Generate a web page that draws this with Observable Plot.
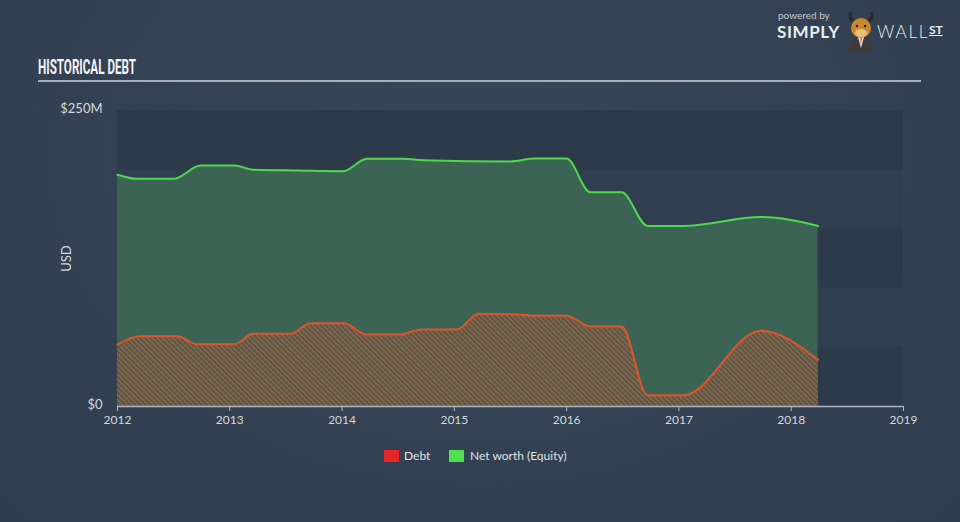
<!DOCTYPE html>
<html>
<head>
<meta charset="utf-8">
<script src="https://cdn.jsdelivr.net/npm/d3@7"></script>
<script src="https://cdn.jsdelivr.net/npm/@observablehq/plot@0.6"></script>
<style>
  html, body { margin: 0; padding: 0; background: #344253; }
  #wrap { position: relative; width: 960px; height: 522px; overflow: hidden;
    background: radial-gradient(ellipse at 50% 30%, #37465a 0%, #334152 60%, #2f3c4d 100%);
    font-family: Lato, "Open Sans", sans-serif; }
  #title { position: absolute; left: 38px; top: 55px; color: #f2f4f6; font-family: Roboto, "Liberation Sans", sans-serif;
    font-weight: 700; font-size: 20.5px; line-height: 24px; white-space: nowrap; transform-origin: 0 0; }
  #hr { position: absolute; left: 38px; top: 80px; width: 883px; height: 2px; background: #a7afb9; }
  #logo { position: absolute; left: 776px; top: 0px; width: 180px; height: 52px; color: #e9ecef; }
  #logo span { position: absolute; line-height: 1; white-space: nowrap; font-family: Lato, sans-serif; }
  #logo .pb { left: 2px; top: 10px; font-size: 10px; color: #c3c8cf; }
  #logo .simply { left: 1px; top: 23px; font-size: 17px; font-weight: 700; letter-spacing: 0.6px; }
  #logo .wall { left: 101px; top: 23px; font-size: 17px; font-weight: 300; letter-spacing: 1.8px; }
  #logo .st { left: 153px; top: 24px; font-size: 12px; font-weight: 700; text-decoration: underline; }
  #logo svg { position: absolute; left: 68px; top: 8px; }
  #chart { position: absolute; left: 0; top: 90px; }
  #legend { position: absolute; left: 0; top: 446px; width: 960px; height: 22px; }
  .item { position: absolute; top: 0; font-size: 12px; color: #dfe3e8; line-height: 20px; font-family: Lato, sans-serif; }
  .sw { position: absolute; top: 4px; width: 15px; height: 12px; }
</style>
</head>
<body>
<div id="wrap">
  <div id="title">HISTORICAL DEBT</div>
  <div id="hr"></div>
  <div id="logo">
    <span class="pb">powered by</span>
    <span class="simply">SIMPLY</span>
    <svg width="34" height="44" viewBox="0 0 34 44">
      <path d="M5 4 Q3 12 9 15 L11 12 Q7 10 8 4 Z" fill="#2a2a2a"/>
      <path d="M29 4 Q31 12 25 15 L23 12 Q27 10 26 4 Z" fill="#2a2a2a"/>
      <path d="M4 44 Q5 30 17 28 Q29 30 30 44 Z" fill="#3d3d3f"/>
      <path d="M14 29 L17 40 L20 29 Z" fill="#f2f2f2"/>
      <path d="M16.2 30 L17 38 L17.8 30 Z" fill="#d9411e"/>
      <ellipse cx="17" cy="20" rx="10" ry="10" fill="#c98a2d"/>
      <ellipse cx="17" cy="25" rx="6" ry="4" fill="#e7c27c"/>
      <circle cx="13" cy="18" r="1.2" fill="#222"/>
      <circle cx="21" cy="18" r="1.2" fill="#222"/>
    </svg>
    <span class="wall">WALL</span>
    <span class="st">ST</span>
  </div>
  <div id="chart"></div>
  <div id="legend">
    <div class="sw" style="left:384px;background:#e8262a"></div>
    <div class="item" style="left:404px">Debt</div>
    <div class="sw" style="left:449px;background:#4fe04f"></div>
    <div class="item" style="left:470px">Net worth (Equity)</div>
  </div>
</div>
<script>
// ---- data ----
const equityYears  = [2012.0, 2012.18, 2012.5, 2012.74, 2013.04, 2013.21, 2013.6, 2014.01, 2014.22, 2014.55, 2014.72, 2015.5, 2015.71, 2016.0, 2016.21, 2016.49, 2016.72, 2017.04, 2017.73, 2018.24];
const equityValues = [195.8, 192.3, 192.3, 203.5, 203.5, 200.0, 199.3, 198.7, 209.2, 209.2, 208.0, 207.0, 209.5, 209.5, 181.0, 181.0, 152.5, 152.5, 160.0, 152.5];

const debtYears  = [2012.0, 2012.2, 2012.53, 2012.71, 2013.04, 2013.21, 2013.54, 2013.72, 2014.02, 2014.21, 2014.52, 2014.7, 2015.02, 2015.22, 2015.5, 2015.75, 2016.0, 2016.21, 2016.49, 2016.72, 2017.04, 2017.73, 2018.24];
const debtValues = [52.4, 59.4, 59.4, 52.6, 52.6, 61.4, 61.4, 70.4, 70.4, 60.8, 60.8, 65.0, 65.0, 78.3, 78.0, 76.6, 76.6, 67.6, 67.6, 9.5, 9.5, 64.0, 39.5];

const xTicks = [2012, 2013, 2014, 2015, 2016, 2017, 2018, 2019];
const yTicks = [0, 250];
const bandStarts = [0, 50, 100, 150, 200];
const seriesNames = ["Debt", "Net worth (Equity)"];

// ---- build tables ----
const equity = equityYears.map((y, i) => ({year: y, value: equityValues[i]}));
const debt = debtYears.map((y, i) => ({year: y, value: debtValues[i]}));
const bands = bandStarts.map((b, i) => ({y1: b, y2: b + 50, fill: i % 2 === 0 ? "#2d3a4a" : "#303e4f"}));
const xDomain = [xTicks[0], xTicks[xTicks.length - 1]];

const hatchDefs = () => {
  const defs = d3.create("svg:defs");
  const p = defs.append("pattern").attr("id", "hatch").attr("patternUnits", "userSpaceOnUse")
    .attr("width", 3.6).attr("height", 3.6).attr("patternTransform", "rotate(-45)");
  p.append("rect").attr("width", 3.6).attr("height", 3.6).attr("fill", "#3b6454");
  p.append("rect").attr("width", 1.7).attr("height", 3.6).attr("fill", "#a8573a");
  return defs.node();
};

const chart = Plot.plot({
  width: 960,
  height: 350,
  marginLeft: 117,
  marginRight: 57,
  marginTop: 20,
  marginBottom: 34,
  style: {color: "#d3d8de", fontFamily: "Lato, sans-serif", fontSize: "12px", background: "transparent"},
  x: {domain: xDomain},
  y: {domain: [yTicks[0], yTicks[1]]},
  color: {type: "identity"},
  marks: [
    hatchDefs,
    Plot.rectY(bands, {x1: xDomain[0], x2: xDomain[1], y1: "y1", y2: "y2", fill: "fill"}),
    Plot.areaY(equity, {x: "year", y: "value", fill: "#3b6454", curve: "monotone-x"}),
    Plot.areaY(debt, {x: "year", y: "value", fill: "url(#hatch)", curve: "monotone-x"}),
    Plot.lineY(equity, {x: "year", y: "value", stroke: "#4fd94a", strokeWidth: 2, curve: "monotone-x"}),
    Plot.lineY(debt, {x: "year", y: "value", stroke: "#e0532b", strokeWidth: 2, curve: "monotone-x"}),
    Plot.ruleY([0], {stroke: "#aeb7c3", strokeWidth: 1.5}),
    Plot.axisX({ticks: xTicks, tickFormat: d => String(d), tickSize: 5, tickPadding: 4, stroke: "#aeb7c3", label: null, fontSize: 12}),
    Plot.axisY({ticks: yTicks, tickSize: 0, tickPadding: 15, tickFormat: d => d === 0 ? "$0" : `$${d}M`, fontSize: 13, dy: -2,
      label: "USD", labelAnchor: "center", labelArrow: "none", labelOffset: 56})
  ]
});
document.getElementById("chart").appendChild(chart);

// condense the title to the reference width
const t = document.getElementById("title");
const w = t.getBoundingClientRect().width;
t.style.transform = `scaleX(${98 / w})`;
</script>
</body>
</html>
